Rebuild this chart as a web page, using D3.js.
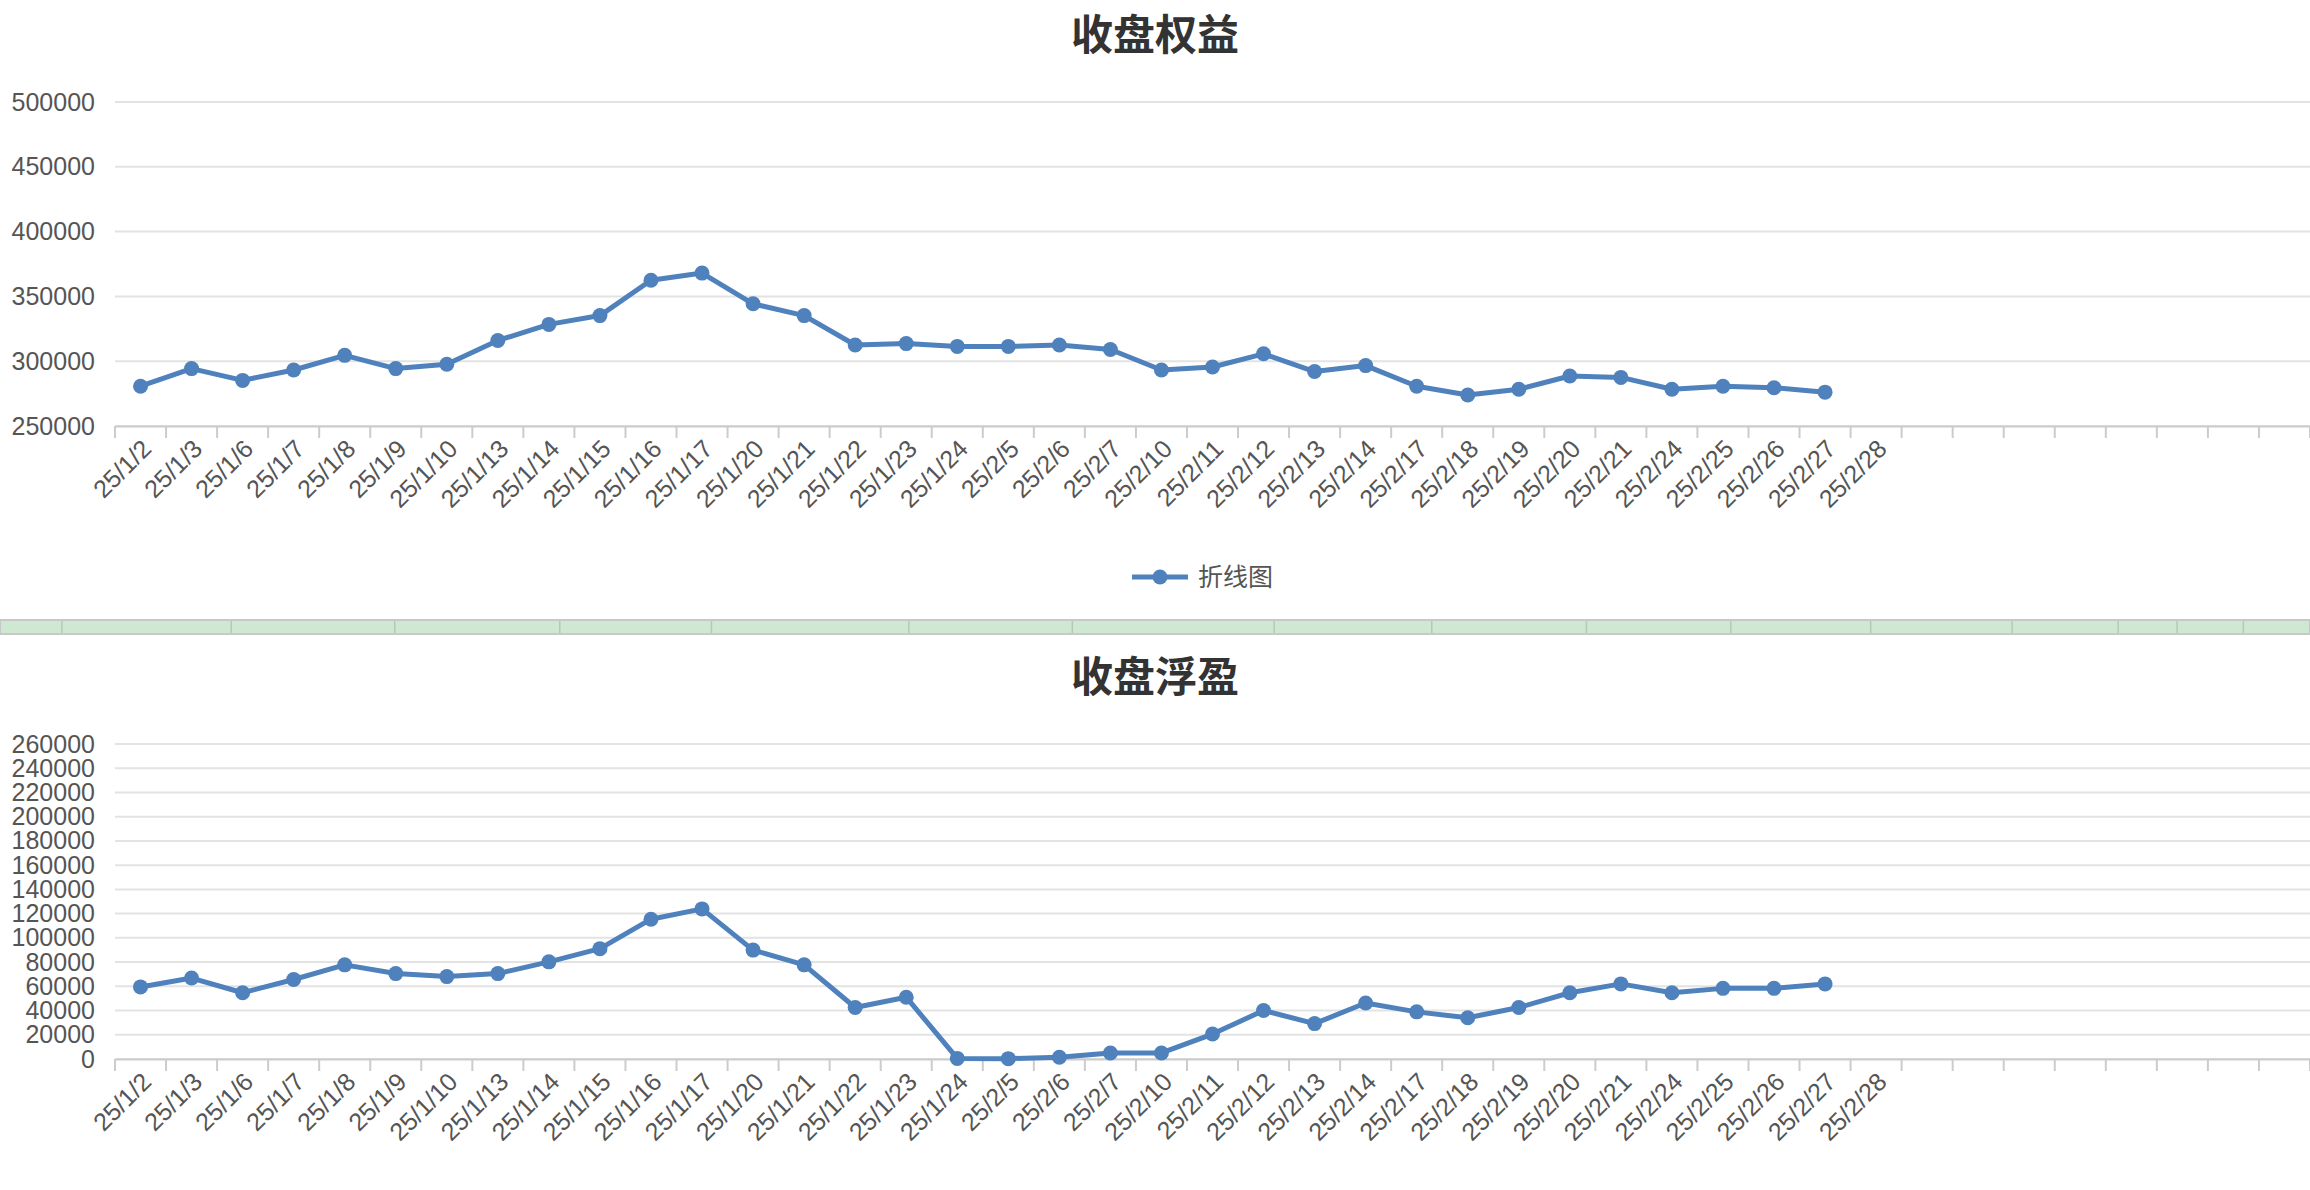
<!DOCTYPE html>
<html><head><meta charset="utf-8">
<script src="https://cdn.jsdelivr.net/npm/d3@7"></script>
<style>body{margin:0;background:#fff;}svg{display:block;font-family:"Liberation Sans","Noto Sans CJK SC",sans-serif;}</style>
</head><body>
<svg id="c" width="2310" height="1190"></svg>
<script>
const dates = ["25/1/2","25/1/3","25/1/6","25/1/7","25/1/8","25/1/9","25/1/10","25/1/13","25/1/14","25/1/15","25/1/16","25/1/17","25/1/20","25/1/21","25/1/22","25/1/23","25/1/24","25/2/5","25/2/6","25/2/7","25/2/10","25/2/11","25/2/12","25/2/13","25/2/14","25/2/17","25/2/18","25/2/19","25/2/20","25/2/21","25/2/24","25/2/25","25/2/26","25/2/27","25/2/28"];
const emptySlots = 8;
const equity = [280700,294300,285200,293200,304500,294300,297700,316000,328400,335200,362500,368000,344300,335200,312500,313600,311400,311400,312500,309000,293200,295500,305700,292000,296600,280700,273900,278400,288600,287500,278400,280700,279500,276100,null];
const floating = [59500,66800,54700,65600,77700,70500,68000,70500,80200,91100,115400,123900,89900,77700,42500,51000,500,300,1500,5000,5000,20600,40000,29200,46200,38900,34000,42500,54700,62000,54700,58300,58300,62000,null];
const equityTicks = [250000,300000,350000,400000,450000,500000];
const floatTicks = d3.range(0,260001,20000);
const titles = ["收盘权益","收盘浮盈"];
const legendLabel = "折线图";
const sepLines = [42,157,268,380,483,617,728,865,972,1077,1175,1270,1366,1438,1478,1523];

const svg = d3.select("#c");
const color = "#4f81bd";
const cats = dates.concat(d3.range(emptySlots).map(i=>"_e"+i));
const x = d3.scaleBand().domain(cats).range([115,2310]);

function panel(vals, ticks, top, bottom, title, titleY, legend){
  const y = d3.scaleLinear().domain([ticks[0], ticks[ticks.length-1]]).range([bottom, top]);
  svg.append("text").attr("x",1155).attr("y",titleY).attr("text-anchor","middle")
    .attr("font-size",42).attr("font-weight","bold").attr("fill","#333").text(title);
  const g = svg.append("g");
  g.selectAll(".grid").data(ticks).join("line").attr("x1",115).attr("x2",2310)
    .attr("y1",d=>y(d)).attr("y2",d=>y(d)).attr("stroke","#e3e3e3").attr("stroke-width",2);
  const ya = g.append("g").attr("transform","translate(98,0)").call(d3.axisLeft(y).tickValues(ticks).tickSize(0).tickFormat(d3.format("d")));
  ya.select(".domain").remove();
  ya.selectAll("text").attr("font-size",25).attr("fill","#555");
  const xa = g.append("g").attr("transform",`translate(0,${bottom})`)
    .call(d3.axisBottom(x).tickSize(0).tickFormat(d=>d.startsWith("_")?"":d));
  xa.select(".domain").attr("stroke","#ccc").attr("stroke-width",2);
  xa.selectAll("text").attr("font-size",25).attr("fill","#555").attr("text-anchor","end")
    .attr("transform","translate(4,16) rotate(-45)").attr("dy","0.35em");
  g.selectAll(".tk").data(cats.concat(["_end"])).join("line")
    .attr("x1",(d,i)=>115+i*x.bandwidth()).attr("x2",(d,i)=>115+i*x.bandwidth())
    .attr("y1",bottom).attr("y2",bottom+12).attr("stroke","#ccc").attr("stroke-width",2);
  const pts = vals.map((v,i)=>({c:dates[i],v})).filter(d=>d.v!=null);
  const line = d3.line().x(d=>x(d.c)+x.bandwidth()/2).y(d=>y(d.v));
  g.append("path").datum(pts).attr("d",line).attr("fill","none").attr("stroke",color).attr("stroke-width",5).attr("stroke-linejoin","round");
  g.selectAll(".pt").data(pts).join("circle").attr("cx",d=>x(d.c)+x.bandwidth()/2).attr("cy",d=>y(d.v)).attr("r",7.5).attr("fill",color);
  if(legend){
    const lg = svg.append("g").attr("transform","translate(1132,577)");
    lg.append("line").attr("x1",0).attr("x2",56).attr("stroke",color).attr("stroke-width",5);
    lg.append("circle").attr("cx",28).attr("r",7.5).attr("fill",color);
    lg.append("text").attr("x",66).attr("dy","0.35em").attr("font-size",25).attr("fill","#555").text(legend);
  }
}
panel(equity, equityTicks, 102, 426, titles[0], 50, legendLabel);
panel(floating, floatTicks, 744, 1059, titles[1], 692, null);

svg.append("rect").attr("x",0).attr("y",620).attr("width",2310).attr("height",14).attr("fill","#cfe8d1").attr("stroke","#c8c8c8").attr("stroke-width",2);
svg.selectAll(".sep").data(sepLines).join("line").attr("x1",d=>d*1.473).attr("x2",d=>d*1.473)
  .attr("y1",621).attr("y2",633).attr("stroke","#b8c8b8").attr("stroke-width",1.5);
</script>
</body></html>
